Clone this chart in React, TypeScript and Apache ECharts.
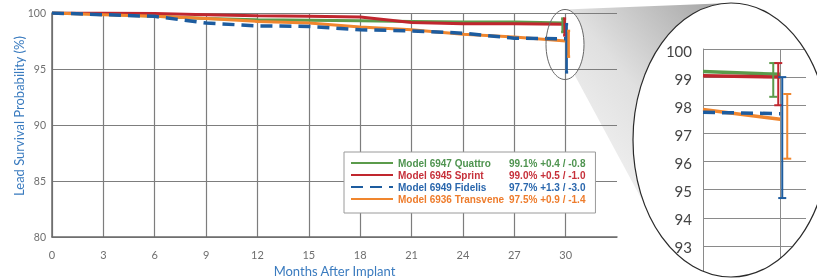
import React, { useEffect, useRef } from "react";
import * as echarts from "echarts";

// ---------- data ----------
const months = [0, 3, 6, 9, 12, 15, 18, 21, 24, 27, 30];
const seriesNames = ["Model 6947 Quattro", "Model 6945 Sprint", "Model 6949 Fidelis", "Model 6936 Transvene"];
const quattro = [100, 99.9, 99.7, 99.5, 99.4, 99.35, 99.3, 99.25, 99.2, 99.2, 99.1];
const sprint = [100, 100, 99.95, 99.85, 99.75, 99.7, 99.65, 99.15, 99.05, 99.05, 99.0];
const fidelis = [100, 99.85, 99.7, 99.1, 98.85, 98.8, 98.5, 98.4, 98.2, 97.75, 97.7];
const transvene = [100, 99.85, 99.7, 99.5, 99.25, 99.1, 98.75, 98.5, 98.1, 97.85, 97.5];
const finalValues = [99.1, 99.0, 97.7, 97.5];
const errPlus = [0.4, 0.5, 1.3, 0.9];
const errMinus = [0.8, 1.0, 3.0, 1.4];
const xTickLabels = ["0", "3", "6", "9", "12", "15", "18", "21", "24", "27", "30"];
const mainYTicks = [80, 85, 90, 95, 100];
const insetYTicks = [93, 94, 95, 96, 97, 98, 99, 100];
const insetMonths = [27, 30];

// ---------- styles ----------
const lineColors = ["#5b9b4b", "#c0262e", "#1d5c9f", "#f0862e"];
const textColors = ["#4f9450", "#c6303a", "#2a67ad", "#ee7c2c"];
const FONT = "Lato, 'Open Sans', sans-serif";
const LEGEND_FONT = "'Liberation Sans', Arial, sans-serif";
const AXIS_BLUE = "#3a7bbf";

const allSeries = [quattro, sprint, fidelis, transvene];
const drawOrder = [0, 1, 3, 2];

function valueText(i: number) {
  return `${finalValues[i].toFixed(1)}% +${errPlus[i].toFixed(1)} / -${errMinus[i].toFixed(1)}`;
}

function errRender(offsets: number[], capHalf: number, lw: number) {
  return (params: any, api: any) => {
    const i = api.value(3);
    const top = api.coord([api.value(0), api.value(2)]);
    const bot = api.coord([api.value(0), api.value(1)]);
    const x = top[0] + offsets[i];
    const st = { stroke: lineColors[i], lineWidth: lw };
    return {
      type: "group",
      children: [
        { type: "line", shape: { x1: x, y1: top[1], x2: x, y2: bot[1] }, style: st },
        { type: "line", shape: { x1: x - capHalf, y1: top[1], x2: x + capHalf, y2: top[1] }, style: st },
        { type: "line", shape: { x1: x - capHalf, y1: bot[1], x2: x + capHalf, y2: bot[1] }, style: st },
      ],
    };
  };
}

// decoration geometry (zoom callout)
const BIG = { cx: 731, cy: 140, rx: 98, ry: 137 };
const SMALL = { cx: 565, cy: 44.5, rx: 19, ry: 35 };

function ellPt(e: any, deg: number) {
  const t = (deg * Math.PI) / 180;
  return [e.cx + e.rx * Math.cos(t), e.cy + e.ry * Math.sin(t)];
}

function buildPolygon() {
  const pts: number[][] = [];
  pts.push(ellPt(SMALL, -90));
  for (let d = 270; d >= 151; d -= 4) pts.push(ellPt(BIG, d));
  pts.push(ellPt(BIG, 151.7));
  for (let d = 60; d >= -90; d -= 10) pts.push(ellPt(SMALL, d));
  return pts;
}

const maskD = (() => {
  const x0 = 698, y0 = 44, x1 = 817, y1 = 278;
  const { cx, cy, rx, ry } = BIG;
  return `M${x0} ${y0} L${x1} ${y0} L${x1} ${y1} L${x0} ${y1} Z ` +
    `M${cx + rx} ${cy} A${rx} ${ry} 0 1 0 ${cx - rx} ${cy} A${rx} ${ry} 0 1 0 ${cx + rx} ${cy} Z`;
})();

let registered = false;

export default function App() {
  const ref = useRef<HTMLDivElement>(null);
  useEffect(() => {
    if (!ref.current) return;
    if (!registered) {
      echarts.graphic.registerShape("calloutMask", echarts.graphic.extendPath(maskD, {}));
      registered = true;
    }
    const chart = echarts.init(ref.current, null, { renderer: "svg" });

    const rich: any = {};
    seriesNames.forEach((_, i) => {
      rich["n" + i] = { color: textColors[i], fontSize: 10, fontWeight: "bold", fontFamily: LEGEND_FONT, width: 111 };
      rich["v" + i] = { color: textColors[i], fontSize: 10, fontWeight: "bold", fontFamily: LEGEND_FONT };
    });

    const series: any[] = [];
    drawOrder.forEach((i) => {
      series.push({
        name: seriesNames[i],
        type: "line",
        xAxisIndex: 0,
        yAxisIndex: 0,
        data: months.map((m, k) => [m, allSeries[i][k]]),
        symbol: "none",
        color: lineColors[i],
        lineStyle: { color: lineColors[i], width: i === 2 ? 3.5 : 3, type: i === 2 ? [12, 7] : "solid" },
        z: 3,
      });
    });
    drawOrder.forEach((i) => {
      series.push({
        name: seriesNames[i] + " inset",
        type: "line",
        xAxisIndex: 1,
        yAxisIndex: 1,
        data: insetMonths.map((m) => [m, allSeries[i][months.indexOf(m)]]),
        symbol: "none",
        color: lineColors[i],
        lineStyle: { color: lineColors[i], width: 3.5, type: i === 2 ? [12, 7] : "solid" },
        z: 3,
      });
    });
    const errData = seriesNames.map((_, i) => [30, finalValues[i] - errMinus[i], finalValues[i] + errPlus[i], i]);
    series.push({
      name: "err main",
      type: "custom",
      xAxisIndex: 0,
      yAxisIndex: 0,
      renderItem: errRender([-3, -1, 1, 3], 1.5, 2.5),
      data: errData,
      z: 4,
    });
    series.push({
      name: "err inset",
      type: "custom",
      xAxisIndex: 1,
      yAxisIndex: 1,
      renderItem: errRender([-7, -2, 2, 7], 4, 2),
      data: errData,
      z: 4,
    });

    const poly = buildPolygon();

    chart.setOption({
      animation: false,
      grid: [
        { left: 52, top: 13, width: 565, height: 224, outerBoundsMode: "none", containLabel: false },
        { left: 703, top: 49, width: 103, height: 225, outerBoundsMode: "none", containLabel: false },
      ],
      xAxis: [
        {
          type: "value",
          gridIndex: 0,
          min: 0,
          max: 33,
          interval: 3,
          axisLine: { lineStyle: { color: "#6b6b6b", width: 1.5 } },
          axisTick: { show: false },
          axisLabel: {
            color: "#6f6f6f",
            fontSize: 11,
            margin: 12,
            fontFamily: FONT,
            showMaxLabel: false,
            formatter: (v: number) => xTickLabels[months.indexOf(v)] ?? "",
          },
          splitLine: { show: true, showMaxLine: false, lineStyle: { color: "#7d7d7d", width: 1.2 } },
          name: "Months After Implant",
          nameLocation: "middle",
          nameGap: 26,
          nameTextStyle: { color: AXIS_BLUE, fontSize: 13, fontFamily: FONT },
        },
        {
          type: "value",
          gridIndex: 1,
          min: 27,
          max: 31,
          interval: 3,
          axisLine: { show: false },
          axisTick: { show: false },
          axisLabel: { show: false },
          splitLine: { show: true, showMinLine: false, showMaxLine: false, lineStyle: { color: "#8a8a8a", width: 1 } },
        },
      ],
      yAxis: [
        {
          type: "value",
          gridIndex: 0,
          min: mainYTicks[0],
          max: mainYTicks[mainYTicks.length - 1],
          interval: 5,
          axisLine: { show: true, lineStyle: { color: "#6b6b6b", width: 1.5 } },
          axisTick: { show: false },
          axisLabel: { color: "#6f6f6f", fontSize: 10.5, margin: 6, fontFamily: FONT },
          splitLine: { show: true, lineStyle: { color: "#7d7d7d", width: 1.2 } },
          name: "Lead Survival Probability (%)",
          nameLocation: "middle",
          nameRotate: 90,
          nameGap: 27,
          nameMoveOverlap: false,
          nameTextStyle: { color: AXIS_BLUE, fontSize: 13, fontFamily: FONT, padding: [0, 0, 0, 18] },
        },
        {
          type: "value",
          gridIndex: 1,
          position: "left",
          min: 92,
          max: insetYTicks[insetYTicks.length - 1],
          interval: 1,
          axisLine: { show: true, lineStyle: { color: "#8a8a8a", width: 1 } },
          axisTick: { show: false },
          axisLabel: { show: false },
          splitLine: { show: true, showMinLine: false, lineStyle: { color: "#8a8a8a", width: 1 } },
        },
      ],
      legend: {
        data: seriesNames,
        orient: "vertical",
        left: 344,
        top: 152,
        padding: [6, 10, 9, 6],
        itemWidth: 42,
        itemHeight: 10,
        itemGap: 2,
        borderColor: "#9a9a9a",
        borderWidth: 1,
        backgroundColor: "#fff",
        selectedMode: false,
        itemStyle: { color: "transparent", borderColor: "transparent", borderWidth: 0, opacity: 0 },
        formatter: (name: string) => {
          const i = seriesNames.indexOf(name);
          return `{n${i}|${name}}{v${i}|${valueText(i)}}`;
        },
        textStyle: { rich, fontSize: 10 },
      },
      graphic: [
        {
          id: "poly",
          type: "polygon",
          z: -1,
          silent: true,
          shape: { points: poly },
          style: {
            fill: new echarts.graphic.LinearGradient(0, 1, 1, 0, [
              { offset: 0, color: "#fbfbfb" },
              { offset: 0.5, color: "#e0e0e0" },
              { offset: 1, color: "#a0a0a0" },
            ]),
          },
        },
        { id: "mask", type: "calloutMask", z: 50, silent: true, style: { fill: "#ffffff" } },
        {
          id: "bigEll",
          type: "ellipse",
          z: 51,
          silent: true,
          shape: { cx: BIG.cx, cy: BIG.cy, rx: BIG.rx, ry: BIG.ry },
          style: { fill: "none", stroke: "#2a2a2a", lineWidth: 1.2 },
        },
        {
          id: "smallEll",
          type: "ellipse",
          z: 51,
          silent: true,
          shape: { cx: SMALL.cx, cy: SMALL.cy, rx: SMALL.rx, ry: SMALL.ry },
          style: { fill: "none", stroke: "#666", lineWidth: 1 },
        },
      ],
      series,
    });

    // inset tick labels, placed through the inset axis scale
    const xLeft = chart.convertToPixel({ xAxisIndex: 1 } as any, insetMonths[0]) as unknown as number;
    const labels = insetYTicks.map((v) => ({
      id: "insetLab" + v,
      type: "text",
      z: 52,
      silent: true,
      x: xLeft - 11,
      y: (chart.convertToPixel({ yAxisIndex: 1 } as any, v) as unknown as number) + 1.5,
      style: {
        text: String(v),
        align: "right",
        verticalAlign: "middle",
        fill: "#444",
        fontSize: 15,
        fontFamily: FONT,
      },
    }));
    chart.setOption({ graphic: labels });

    return () => chart.dispose();
  }, []);
  return <div ref={ref} style={{ position: "fixed", left: 0, top: 0, width: 817, height: 278 }} />;
}
